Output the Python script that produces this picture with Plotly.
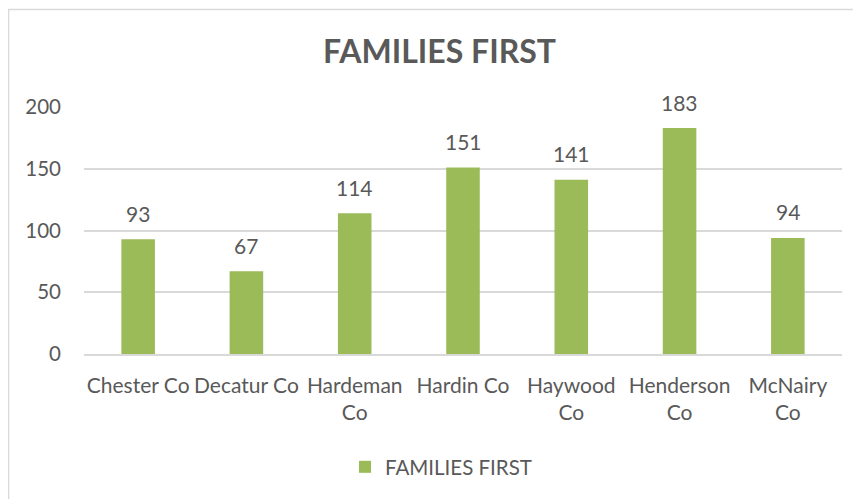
import plotly.graph_objects as go

categories = ["Chester Co", "Decatur Co", "Hardeman<br>Co", "Hardin Co",
              "Haywood<br>Co", "Henderson<br>Co", "McNairy<br>Co"]
values = [93, 67, 114, 151, 141, 183, 94]
series_name = "FAMILIES FIRST"
title_text = "FAMILIES FIRST"
y_ticks = [0, 50, 100, 150, 200]

OFF = 8  # page body margin
W, H = 853, 491
L, R, T, B = 76, 19, 99, 145
pw, ph = W - L - R, H - T - B

FONT = "Lato, Carlito, Calibri, sans-serif"
GRAY = "#595959"
GREEN = "#9BBB59"
GRID = "#D9D9D9"


def px_x(p):  # screen px -> paper x
    return (p - OFF - L) / pw


def px_y(p):  # screen px -> paper y
    return (H - B - (p - OFF)) / ph


fig = go.Figure()
fig.add_trace(go.Bar(
    x=categories, y=values, name=series_name,
    marker=dict(color=GREEN, line=dict(width=0)),
    showlegend=True,
))

for c, v in zip(categories, values):
    fig.add_annotation(x=c, y=v, text=str(v), showarrow=False,
                       yanchor="middle", yshift=26,
                       font=dict(family=FONT, size=21, color=GRAY))

fig.add_shape(type="rect", xref="paper", yref="paper",
              x0=px_x(8.5), x1=px_x(900), y0=px_y(560), y1=px_y(9.5),
              line=dict(color=GRID, width=1.5), fillcolor="rgba(0,0,0,0)",
              layer="below")

fig.update_layout(
    width=W, height=H,
    margin=dict(l=L, r=R, t=T, b=B),
    paper_bgcolor="white", plot_bgcolor="white",
    title=dict(text="<b>" + title_text + "</b>", x=px_x(439.5), xref="paper",
               xanchor="center", y=1 - (52 - OFF) / H, yref="container",
               yanchor="middle",
               font=dict(family=FONT, size=32, color=GRAY)),
    bargap=0.69,
    showlegend=True,
    legend=dict(orientation="h", x=px_x(441), xanchor="center",
                y=px_y(467), yanchor="middle",
                font=dict(family=FONT, size=20.5, color=GRAY),
                itemwidth=30),
    font=dict(family=FONT, color=GRAY),
)
fig.update_xaxes(showgrid=False, showline=True, linecolor=GRID, linewidth=1.5,
                 ticks="", tickfont=dict(family=FONT, size=21, color=GRAY),
                 ticklabelstandoff=12)
fig.update_yaxes(range=[0, 200], tickvals=y_ticks, showgrid=True, gridcolor=GRID,
                 gridwidth=1.5, zeroline=False, showline=False, ticks="",
                 tickfont=dict(family=FONT, size=20.5, color=GRAY),
                 ticklabelstandoff=22)

fig.write_html("out.html")
